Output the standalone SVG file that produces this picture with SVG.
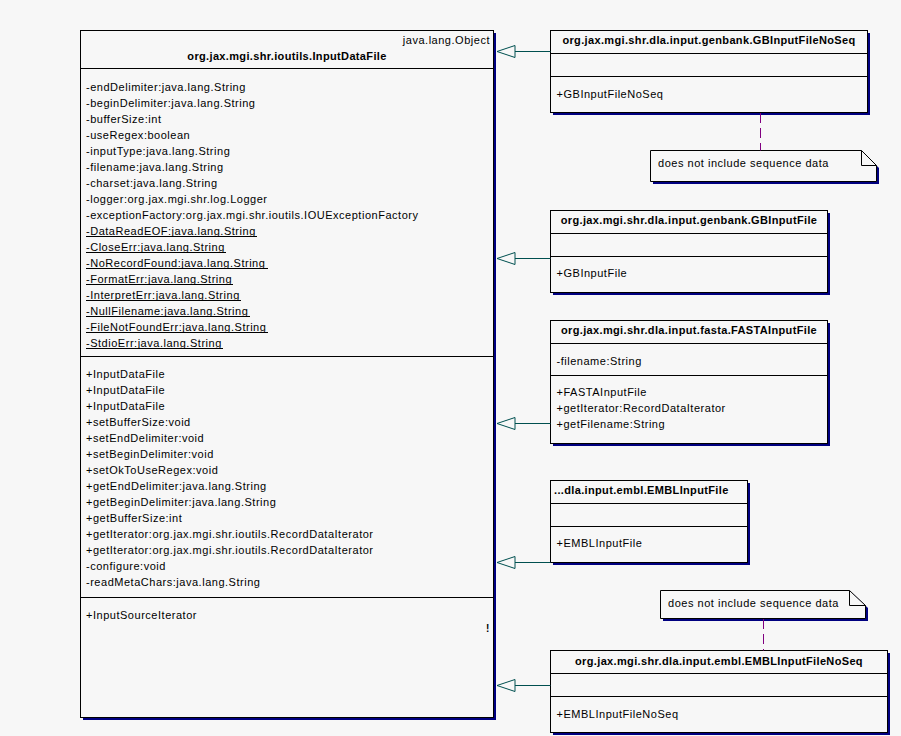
<svg xmlns="http://www.w3.org/2000/svg" width="901" height="736" viewBox="0 0 901 736">
  <style>
    text { font-family: "Liberation Sans", Arial, sans-serif; font-size: 11px; fill: #000; letter-spacing: 0.52px; }
    .title { font-weight: bold; text-anchor: middle; letter-spacing: 0.35px; }
    .bold { font-weight: bold; letter-spacing: 0.35px; }
    .uline { stroke: #000; stroke-width: 1; }
    .box { fill: #f7f7f7; stroke: #000; stroke-width: 1; }
    .shadow { fill: #000080; }
    .sep { stroke: #000; stroke-width: 1; }
    .gen { stroke: #005050; stroke-width: 1; fill: none; }
    .head { stroke: #005050; stroke-width: 1; fill: #f7f7f7; }
    .anchor { stroke: #800080; stroke-width: 1; stroke-dasharray: 10 5; fill: none; }
  </style>

  <rect x="0" y="0" width="901" height="736" fill="#f7f7f7"/>

  <!-- Base class -->
  <g id="InputDataFile">
    <rect class="shadow" x="83" y="33" width="413" height="687"/>
    <rect class="box" x="80.5" y="30.5" width="413" height="687"/>
    <text x="490" y="44" text-anchor="end">java.lang.Object</text>
    <text class="title" x="287" y="60">org.jax.mgi.shr.ioutils.InputDataFile</text>
    <line class="sep" x1="80.5" y1="68.5" x2="493.5" y2="68.5"/>
    <g>
      <text x="86" y="91">-endDelimiter:java.lang.String</text>
      <text x="86" y="107">-beginDelimiter:java.lang.String</text>
      <text x="86" y="123">-bufferSize:int</text>
      <text x="86" y="139">-useRegex:boolean</text>
      <text x="86" y="155">-inputType:java.lang.String</text>
      <text x="86" y="171">-filename:java.lang.String</text>
      <text x="86" y="187">-charset:java.lang.String</text>
      <text x="86" y="203">-logger:org.jax.mgi.shr.log.Logger</text>
      <text x="86" y="219">-exceptionFactory:org.jax.mgi.shr.ioutils.IOUExceptionFactory</text>
      <!-- static fields (underlined) -->
      <text x="86" y="235">-DataReadEOF:java.lang.String</text>
      <text x="86" y="251">-CloseErr:java.lang.String</text>
      <text x="86" y="267">-NoRecordFound:java.lang.String</text>
      <text x="86" y="283">-FormatErr:java.lang.String</text>
      <text x="86" y="299">-InterpretErr:java.lang.String</text>
      <text x="86" y="315">-NullFilename:java.lang.String</text>
      <text x="86" y="331">-FileNotFoundErr:java.lang.String</text>
      <text x="86" y="347">-StdioErr:java.lang.String</text>
      <line class="uline" x1="86" y1="236.5" x2="257" y2="236.5"/>
      <line class="uline" x1="86" y1="252.5" x2="226" y2="252.5"/>
      <line class="uline" x1="86" y1="268.5" x2="268" y2="268.5"/>
      <line class="uline" x1="86" y1="284.5" x2="233" y2="284.5"/>
      <line class="uline" x1="86" y1="300.5" x2="241" y2="300.5"/>
      <line class="uline" x1="86" y1="316.5" x2="250" y2="316.5"/>
      <line class="uline" x1="86" y1="332.5" x2="268" y2="332.5"/>
      <line class="uline" x1="86" y1="348.5" x2="223" y2="348.5"/>
    </g>
    <line class="sep" x1="80.5" y1="356.5" x2="493.5" y2="356.5"/>
    <g>
      <text x="86" y="378">+InputDataFile</text>
      <text x="86" y="394">+InputDataFile</text>
      <text x="86" y="410">+InputDataFile</text>
      <text x="86" y="426">+setBufferSize:void</text>
      <text x="86" y="442">+setEndDelimiter:void</text>
      <text x="86" y="458">+setBeginDelimiter:void</text>
      <text x="86" y="474">+setOkToUseRegex:void</text>
      <text x="86" y="490">+getEndDelimiter:java.lang.String</text>
      <text x="86" y="506">+getBeginDelimiter:java.lang.String</text>
      <text x="86" y="522">+getBufferSize:int</text>
      <text x="86" y="538">+getIterator:org.jax.mgi.shr.ioutils.RecordDataIterator</text>
      <text x="86" y="554">+getIterator:org.jax.mgi.shr.ioutils.RecordDataIterator</text>
      <text x="86" y="570">-configure:void</text>
      <text x="86" y="586">-readMetaChars:java.lang.String</text>
    </g>
    <line class="sep" x1="80.5" y1="597.5" x2="493.5" y2="597.5"/>
    <text x="86" y="619">+InputSourceIterator</text>
    <text x="486" y="632" style="font-size:10px;font-weight:bold;letter-spacing:0">!</text>
  </g>

  <!-- Subclasses -->
  <g id="GBInputFileNoSeq">
    <rect class="shadow" x="553" y="33" width="317" height="82"/>
    <rect class="box" x="550.5" y="30.5" width="317" height="82"/>
    <text class="title" x="709" y="44">org.jax.mgi.shr.dla.input.genbank.GBInputFileNoSeq</text>
    <line class="sep" x1="550.5" y1="53.5" x2="867.5" y2="53.5"/>
    <line class="sep" x1="550.5" y1="76.5" x2="867.5" y2="76.5"/>
    <text x="556.5" y="98">+GBInputFileNoSeq</text>
  </g>

  <g id="GBInputFile">
    <rect class="shadow" x="553" y="213" width="277" height="82"/>
    <rect class="box" x="550.5" y="210.5" width="277" height="82"/>
    <text class="title" x="689" y="224">org.jax.mgi.shr.dla.input.genbank.GBInputFile</text>
    <line class="sep" x1="550.5" y1="233.5" x2="827.5" y2="233.5"/>
    <line class="sep" x1="550.5" y1="256.5" x2="827.5" y2="256.5"/>
    <text x="556.5" y="277">+GBInputFile</text>
  </g>

  <g id="FASTAInputFile">
    <rect class="shadow" x="553" y="323" width="277" height="123"/>
    <rect class="box" x="550.5" y="320.5" width="277" height="123"/>
    <text class="title" x="689" y="334">org.jax.mgi.shr.dla.input.fasta.FASTAInputFile</text>
    <line class="sep" x1="550.5" y1="343.5" x2="827.5" y2="343.5"/>
    <text x="556.5" y="365">-filename:String</text>
    <line class="sep" x1="550.5" y1="375.5" x2="827.5" y2="375.5"/>
    <text x="556.5" y="396">+FASTAInputFile</text>
    <text x="556.5" y="412">+getIterator:RecordDataIterator</text>
    <text x="556.5" y="428">+getFilename:String</text>
  </g>

  <g id="EMBLInputFile">
    <rect class="shadow" x="553" y="483" width="197" height="82"/>
    <rect class="box" x="550.5" y="480.5" width="197" height="82"/>
    <text class="bold" x="554" y="494">...dla.input.embl.EMBLInputFile</text>
    <line class="sep" x1="550.5" y1="503.5" x2="747.5" y2="503.5"/>
    <line class="sep" x1="550.5" y1="526.5" x2="747.5" y2="526.5"/>
    <text x="556.5" y="547">+EMBLInputFile</text>
  </g>

  <g id="EMBLInputFileNoSeq">
    <rect class="shadow" x="553" y="653" width="337" height="82"/>
    <rect class="box" x="550.5" y="650.5" width="337" height="82"/>
    <text class="title" x="719" y="665">org.jax.mgi.shr.dla.input.embl.EMBLInputFileNoSeq</text>
    <line class="sep" x1="550.5" y1="673.5" x2="887.5" y2="673.5"/>
    <line class="sep" x1="550.5" y1="696.5" x2="887.5" y2="696.5"/>
    <text x="556.5" y="718">+EMBLInputFileNoSeq</text>
  </g>

  <!-- Notes -->
  <g id="note-genbank">
    <polygon class="shadow" points="653,153 864,153 879,168 879,184 653,184"/>
    <polygon class="box" points="650.5,150.5 861.5,150.5 876.5,165.5 876.5,181.5 650.5,181.5"/>
    <polyline class="sep" fill="none" points="861.5,150.5 861.5,165.5 876.5,165.5"/>
    <text x="658" y="166.5">does not include sequence data</text>
  </g>

  <g id="note-embl">
    <polygon class="shadow" points="663,593 852,593 868,608 868,621 663,621"/>
    <polygon class="box" points="660.5,590.5 849.5,590.5 865.5,605.5 865.5,618.5 660.5,618.5"/>
    <polyline class="sep" fill="none" points="849.5,590.5 849.5,605.5 865.5,605.5"/>
    <text x="668" y="606.5">does not include sequence data</text>
  </g>

  <!-- Connectors -->
  <g id="connectors">
    <!-- generalizations -->
    <line class="gen" x1="515" y1="51.5" x2="550.5" y2="51.5"/>
    <polygon class="head" points="497,51.5 515,45.5 515,57.5"/>
    <line class="gen" x1="515" y1="258.5" x2="550.5" y2="258.5"/>
    <polygon class="head" points="497,258.5 515,252.5 515,264.5"/>
    <line class="gen" x1="515" y1="423.5" x2="550.5" y2="423.5"/>
    <polygon class="head" points="497,423.5 515,417.5 515,429.5"/>
    <line class="gen" x1="515" y1="562.5" x2="550.5" y2="562.5"/>
    <polygon class="head" points="497,562.5 515,556.5 515,568.5"/>
    <line class="gen" x1="515" y1="685.5" x2="550.5" y2="685.5"/>
    <polygon class="head" points="497,685.5 515,679.5 515,691.5"/>
    <!-- note anchors -->
    <line class="anchor" x1="760.5" y1="113" x2="760.5" y2="150.5"/>
    <line class="anchor" x1="763.5" y1="619" x2="763.5" y2="650.5"/>
  </g>
</svg>
